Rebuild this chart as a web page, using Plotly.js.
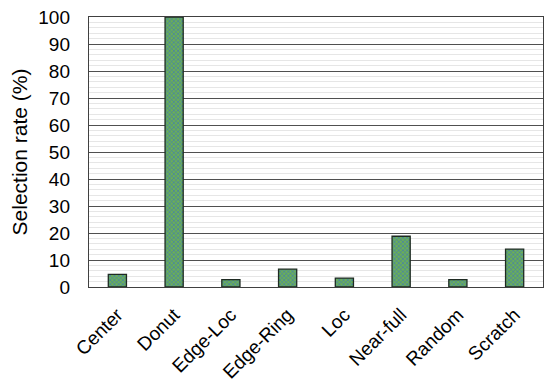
<!DOCTYPE html>
<html>
<head>
<script src="https://cdn.plot.ly/plotly-3.0.1.min.js"></script>
<style>body{margin:0;background:#fff}</style>
</head>
<body>
<div id="chart1" style="width:550px;height:383px"></div>
<script>
var categories = ["Center", "Donut", "Edge-Loc", "Edge-Ring", "Loc", "Near-full", "Random", "Scratch"]
var selectionRate = [4.7, 100, 2.7, 6.6, 3.3, 18.8, 2.7, 14]

var font = {family: "Liberation Sans, Arial, sans-serif", size: 19, color: "#000"}

Plotly.newPlot("chart1", [{
    type: "bar",
    x: categories,
    y: selectionRate,
    marker: {
        color: "#6aae58",
        line: {color: "#1e2a22", width: 1.3},
        pattern: {shape: "x", fgcolor: "#3f78b8", bgcolor: "#6aae58", size: 3, solidity: 0.35}
    },
    hoverinfo: "none"
}], {
    width: 550,
    height: 383,
    margin: {l: 89, r: 7, t: 17, b: 96},
    bargap: 0.68,
    paper_bgcolor: "#fff",
    plot_bgcolor: "#fff",
    showlegend: false,
    font: font,
    xaxis: {
        tickangle: -45,
        showgrid: false,
        showline: true,
        mirror: true,
        linecolor: "#404040",
        linewidth: 1.2,
        ticks: "outside",
        ticklen: 8,
        tickcolor: "rgba(0,0,0,0)",
        tickfont: font
    },
    yaxis: {
        title: {text: "Selection rate (%)", font: {family: font.family, size: 21, color: "#000"}, standoff: 5},
        range: [0, 100],
        dtick: 10,
        showgrid: true,
        gridcolor: "#505050",
        gridwidth: 1,
        minor: {dtick: 2, showgrid: true, gridcolor: "#e6e6e6", gridwidth: 1},
        showline: true,
        mirror: true,
        linecolor: "#404040",
        linewidth: 1.2,
        zeroline: false,
        ticks: "outside",
        ticklen: 14,
        tickcolor: "rgba(0,0,0,0)",
        tickfont: font
    }
}, {displayModeBar: false, staticPlot: true})
</script>
</body>
</html>
